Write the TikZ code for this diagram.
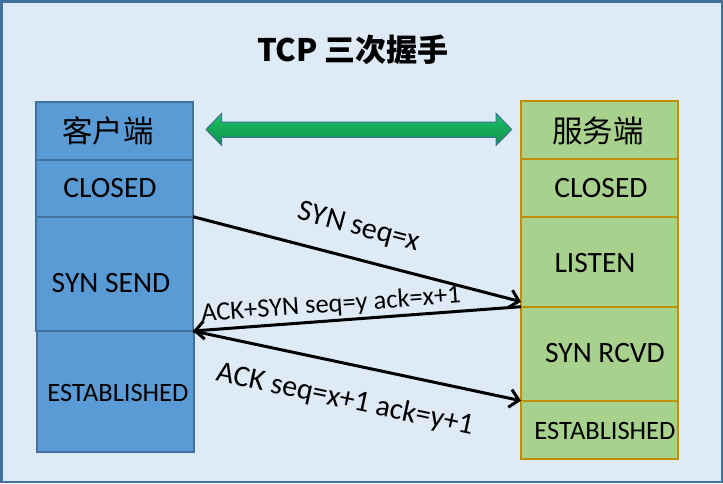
\documentclass[tikz,border=0pt]{standalone}
\usepackage{fontspec}
\setmainfont{Carlito}
\newfontfamily\cjk{Noto Sans CJK SC}
\usetikzlibrary{arrows.meta,calc}
\definecolor{bgblue}{HTML}{DEEAF6}
\definecolor{frameblue}{HTML}{41719C}
\definecolor{cfill}{HTML}{5B9BD5}
\definecolor{sfill}{HTML}{A9D18E}
\definecolor{sline}{HTML}{BF9000}
\definecolor{gtop}{HTML}{1DC464}
\definecolor{gbot}{HTML}{0E8E4C}
\tikzset{
  cbox/.style={draw=frameblue, fill=cfill, line width=2pt, anchor=north west, inner sep=0pt, outer sep=0pt, minimum width=157pt},
  sbox/.style={draw=sline, fill=sfill, line width=2pt, anchor=north west, inner sep=0pt, outer sep=0pt, minimum width=157pt},
  lbl/.style={inner sep=0pt, font=\fontsize{29.5}{34}\selectfont},
  lbls/.style={inner sep=0pt, font=\fontsize{26.5}{31}\selectfont},
  cn/.style={inner sep=0pt, font=\cjk\fontsize{30.5}{35}\selectfont},
  msg/.style={draw=black, line width=3pt, -{Straight Barb[length=9pt,width=18pt,line width=3pt]}},
  mlbl/.style={inner sep=0pt, font=\fontsize{30}{35}\selectfont},
}
\begin{document}
\begin{tikzpicture}[x=1pt,y=-1pt]
\useasboundingbox (0,0) rectangle (723,483);
\fill[bgblue] (0,0) rectangle (723,483);
\draw[frameblue, line width=2.5pt] (1.25,1.25) rectangle (721.75,481.75);

\node[inner sep=0pt, font=\cjk\bfseries\fontsize{31}{36}\selectfont] (title) at (353,50) {TCP 三次握手};

% green double arrow
\shade[top color=gtop, bottom color=gbot, draw=frameblue, line width=1pt]
  (206,129.5) -- (221.7,113.3) -- (221.7,122) -- (496,122) -- (496,113.3) -- (511.7,129.5)
  -- (496,145.5) -- (496,137.3) -- (221.7,137.3) -- (221.7,145.5) -- cycle;

% client column
\node[cbox, minimum height=58pt] (c1) at (36,102) {};
\node[cbox, minimum height=56.7pt] (c2) at (36,160) {};
\node[cbox, minimum height=114.3pt] (c3) at (36,216.7) {};
\node[cbox, minimum height=121pt] (c4) at (37,331) {};

% server column
\node[sbox, minimum height=58.3pt] (s1) at (521,101) {};
\node[sbox, minimum height=58.4pt] (s2) at (521,159.3) {};
\node[sbox, minimum height=90pt] (s3) at (521,216.7) {};
\node[sbox, minimum height=94pt] (s4) at (521,306.7) {};
\node[sbox, minimum height=58pt] (s5) at (521,400.7) {};

% labels
\node[cn] (tc1) at (108,131) {客户端};
\node[lbl] (tc2) at (110,188) {CLOSED};
\node[lbl] (tc3) at (111,283) {SYN SEND};
\node[lbls] (tc4) at (118,393) {ESTABLISHED};
\node[cn] (ts1) at (598,131) {服务端};
\node[lbl] (ts2) at (601,188) {CLOSED};
\node[lbl] (ts3) at (595,263) {LISTEN};
\node[lbl] (ts4) at (605,353) {SYN RCVD};
\node[lbls] (ts5) at (605,431) {ESTABLISHED};

% messages
\coordinate (a1) at ($(s3.south west)+(0,-5)$);
\draw[msg] (c2.south east) -- (a1);
\draw[msg] (s3.south west) -- (c3.south east);
\draw[msg] (c3.south east) -- (s4.south west);

\node[mlbl, rotate=-15] (m1) at (359,228) {SYN seq=x};
\node[lbls, rotate=4] (m2) at (331,305) {ACK+SYN seq=y ack=x+1};
\node[mlbl, rotate=-12] (m3) at (345,400) {ACK seq=x+1 ack=y+1};
\end{tikzpicture}
\end{document}
